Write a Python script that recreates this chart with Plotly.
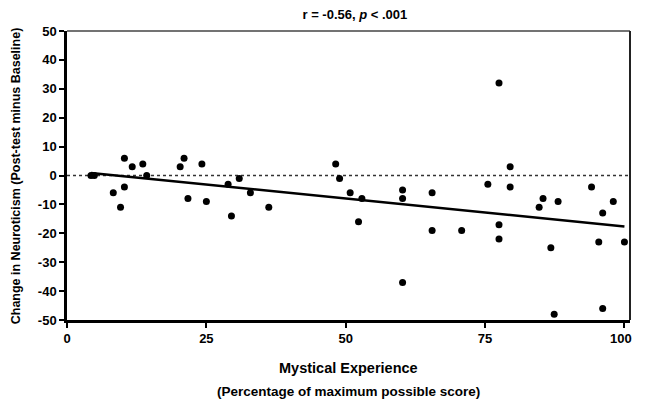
import numpy as np
import plotly.graph_objects as go

# Data
mystical = [4.3, 4.9, 8.3, 9.6, 10.3, 10.3, 11.7, 13.6, 14.3, 20.3, 21.0, 21.7, 24.2, 25.0,
            28.9, 29.5, 30.9, 32.9, 36.2, 48.2, 48.9, 50.8, 52.3, 52.9, 60.2, 60.2, 60.2,
            65.5, 65.5, 70.8, 75.5, 77.5, 77.5, 77.5, 79.5, 79.5, 84.7, 85.4, 86.8, 87.4,
            88.1, 94.1, 95.4, 96.1, 96.1, 98.0, 100.0]
neuro_change = [0, 0, -6, -11, 6, -4, 3, 4, 0, 3, 6, -8, 4, -9,
                -3, -14, -1, -6, -11, 4, -1, -6, -16, -8, -5, -8, -37,
                -6, -19, -19, -3, 32, -17, -22, 3, -4, -11, -8, -25, -48,
                -9, -4, -23, -13, -46, -9, -23]

x_ticks = [0, 25, 50, 75, 100]
x_tick_labels = ["0", "25", "50", "75", "100"]
y_ticks = list(range(-50, 51, 10))

FONT = "Liberation Sans, Arial, sans-serif"

x = np.array(mystical)
y = np.array(neuro_change)
slope, intercept = np.polyfit(x, y, 1)
fit_x = np.array([x.min(), x.max()])
fit_y = intercept + slope * fit_x

# last label padded so its glyphs stay inside the page edge
x_ticktext = [f"<b>{t}</b>" for t in x_tick_labels]
x_ticktext[-1] = x_ticktext[-1] + "&nbsp;&nbsp;"

fig = go.Figure()
fig.add_trace(go.Scatter(x=[0, 101], y=[0, 0], mode="lines",
                         line=dict(color="#333333", width=1.6, dash="dot"),
                         hoverinfo="skip", showlegend=False))
fig.add_trace(go.Scatter(x=fit_x, y=fit_y, mode="lines",
                         line=dict(color="black", width=2.5), showlegend=False))
fig.add_trace(go.Scatter(x=mystical, y=neuro_change, mode="markers",
                         marker=dict(color="black", size=7, symbol="circle"),
                         showlegend=False))

fig.update_layout(
    width=633, height=392,
    margin=dict(l=59, r=2, t=23, b=80),
    paper_bgcolor="white", plot_bgcolor="white",
    font=dict(family=FONT, color="black", size=12),
    showlegend=False,
    title=dict(text="<b>r = -0.56, <i>p</i> < .001</b>", x=0.548, xanchor="center",
               xref="container", yref="container", y=0.994, yanchor="top",
               pad=dict(t=0, b=0), font=dict(size=13, family=FONT)),
    xaxis=dict(range=[0, 101], tickvals=x_ticks, ticktext=x_ticktext,
               ticklabeloverflow="allow",
               showgrid=False, zeroline=False, showline=True, linecolor="black", linewidth=2.5,
               ticks="outside", ticklen=5, tickwidth=2, tickcolor="black",
               tickfont=dict(size=13, family=FONT)),
    yaxis=dict(range=[-50, 50], tickvals=y_ticks, ticktext=[f"<b>{v}</b>" for v in y_ticks],
               showgrid=False, zeroline=False, showline=True, linecolor="black", linewidth=2.5,
               ticks="outside", ticklen=5, tickwidth=2, tickcolor="black",
               tickfont=dict(size=13, family=FONT)),
    shapes=[
        dict(type="line", xref="paper", yref="paper", x0=0, x1=1, y0=1, y1=1,
             line=dict(color="#444444", width=1.5)),
        dict(type="line", xref="paper", yref="paper", x0=1, x1=1, y0=0, y1=1,
             line=dict(color="#222222", width=2)),
    ],
    annotations=[
        dict(text="<b>Change in Neuroticism (Post-test minus Baseline)</b>", textangle=-90,
             xref="paper", yref="paper", x=-0.091, y=0.5, xanchor="center", yanchor="middle",
             showarrow=False, font=dict(size=12.5, family=FONT)),
        dict(text="<b>Mystical Experience</b>", xref="paper", yref="paper",
             x=0.5, y=-0.166, xanchor="center", yanchor="middle",
             showarrow=False, font=dict(size=14.5, family=FONT)),
        dict(text="<b>(Percentage of maximum possible score)</b>", xref="paper", yref="paper",
             x=0.5, y=-0.249, xanchor="center", yanchor="middle",
             showarrow=False, font=dict(size=13.5, family=FONT)),
    ],
)

fig.write_html("out.html")
